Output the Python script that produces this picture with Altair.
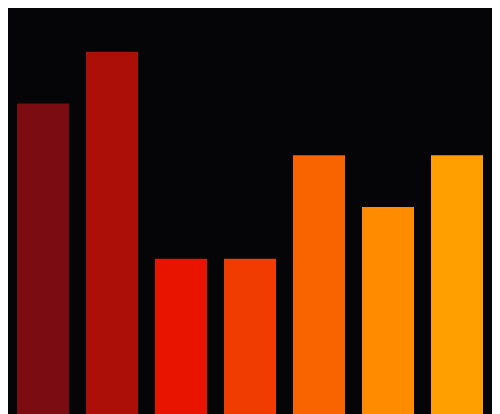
import altair as alt
import pandas as pd

categories = ["A", "B", "C", "D", "E", "F", "G"]
values = [6, 7, 3, 3, 5, 4, 5]
colors = ["#7a0c12", "#ab0f08", "#e81400", "#f03c00", "#fa6400", "#ff8c00", "#ffa000"]

df = pd.DataFrame({"cat": categories, "val": values})

chart = alt.Chart(df).mark_bar().encode(
    x=alt.X("cat:N", axis=None, sort=categories,
            scale=alt.Scale(paddingInner=17 / 69, paddingOuter=9 / 69)),
    y=alt.Y("val:Q", axis=None, scale=alt.Scale(domain=[0, 7.845], nice=False, zero=True)),
    color=alt.Color("cat:N", legend=None,
                    scale=alt.Scale(domain=categories, range=colors)),
).properties(
    width=484, height=406, padding=0, background="#050508",
    autosize=alt.AutoSizeParams(type="none"),
).configure_view(stroke=None, fill="#050508")

chart.save("out.html", embed_options={"renderer": "svg", "actions": False})
